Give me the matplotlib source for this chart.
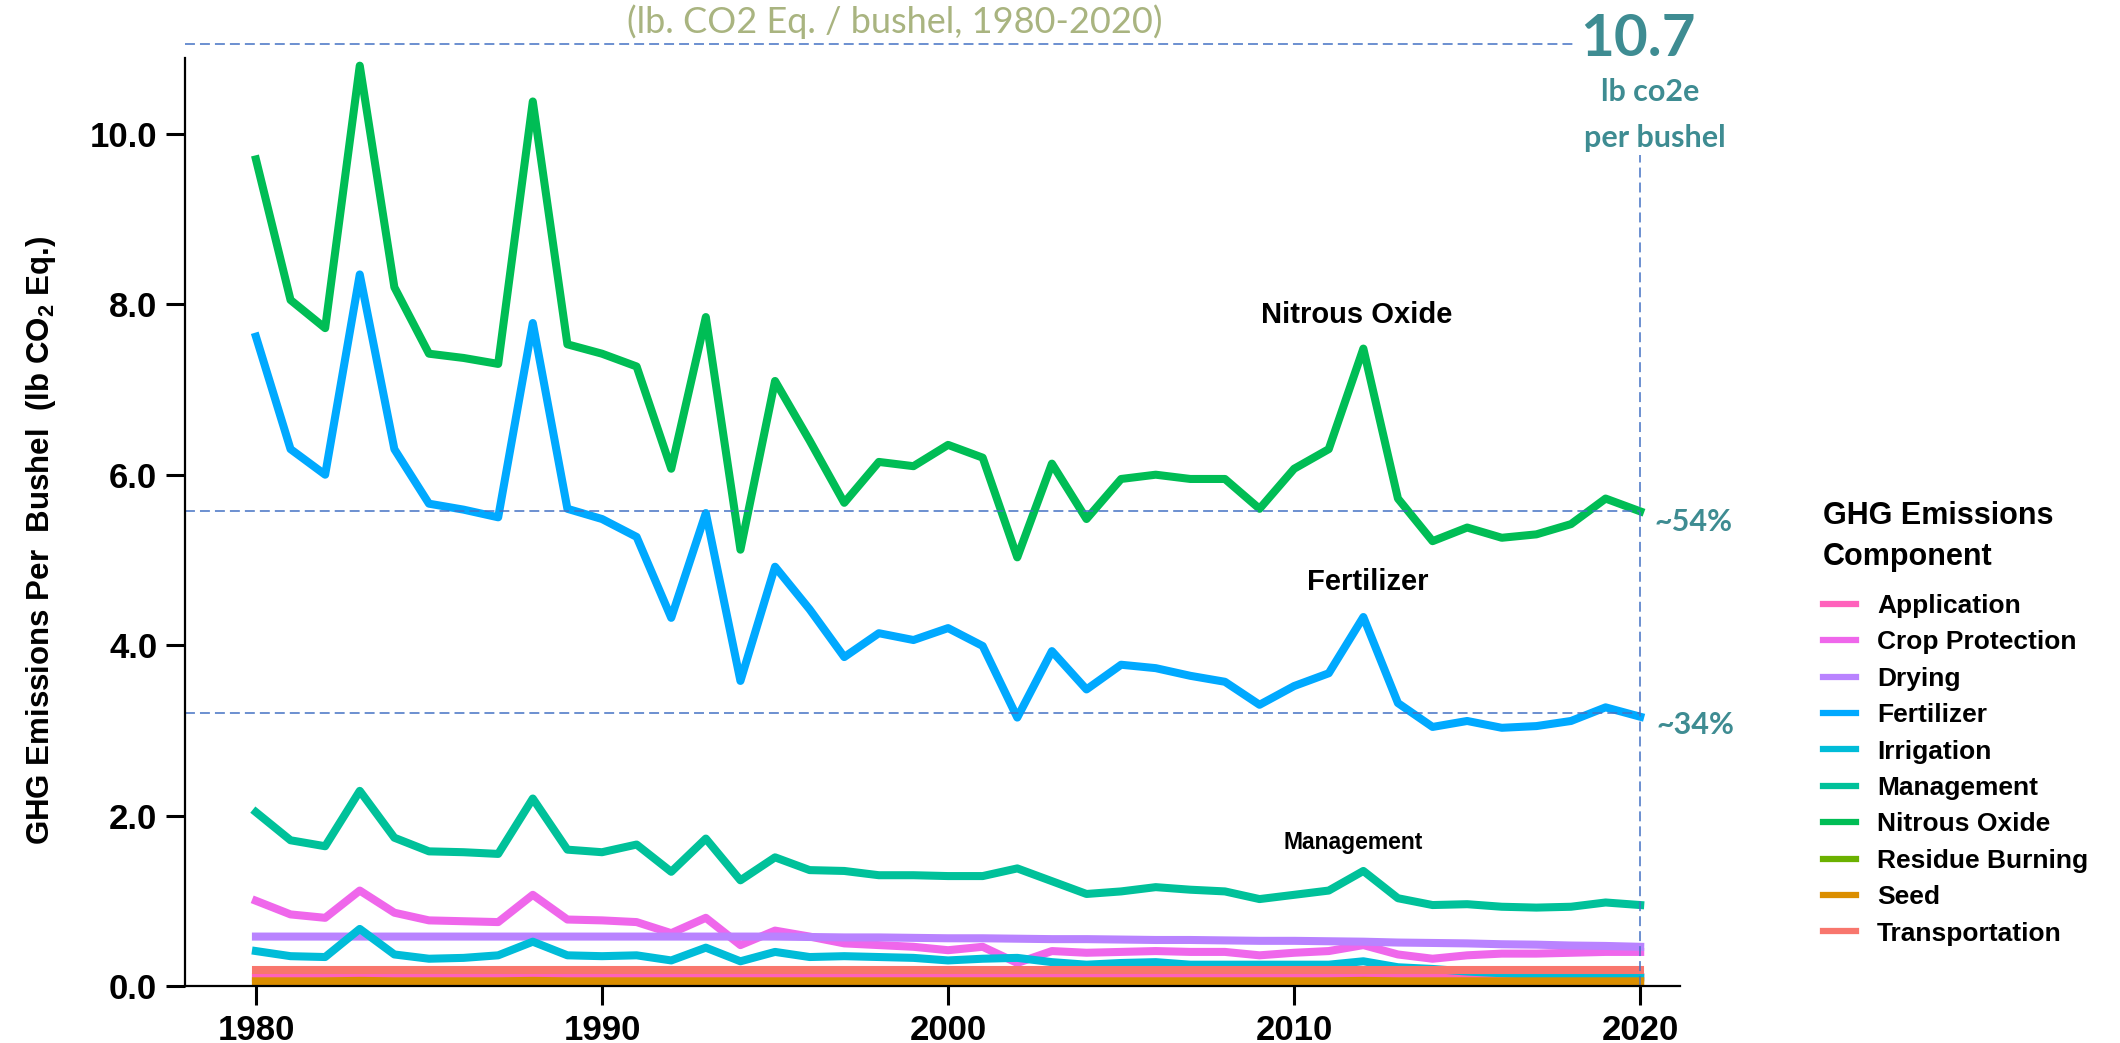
import numpy as np
import matplotlib
matplotlib.use("Agg")
import matplotlib.pyplot as plt
from matplotlib.lines import Line2D

## Data : lb CO2 eq. per bushel, 1980-2020

years = list(range(1980, 2021))

components = ['Application', 'Crop Protection', 'Drying', 'Fertilizer', 'Irrigation',
              'Management', 'Nitrous Oxide', 'Residue Burning', 'Seed', 'Transportation']

colors = ['#FF62BC', '#EF67EB', '#B983FF', '#00A9FF', '#00BCD8',
          '#00C19A', '#00BD55', '#6BB100', '#DB8E00', '#F8766D']

application = [0.10, 0.10, 0.10, 0.11, 0.10, 0.10, 0.10, 0.10, 0.11, 0.10,
               0.10, 0.10, 0.10, 0.10, 0.10, 0.10, 0.10, 0.10, 0.10, 0.10,
               0.10, 0.10, 0.10, 0.10, 0.10, 0.10, 0.10, 0.10, 0.10, 0.10,
               0.10, 0.10, 0.11, 0.10, 0.10, 0.10, 0.10, 0.10, 0.10, 0.10, 0.10]

crop_protection = [1.00, 0.84, 0.80, 1.12, 0.86, 0.77, 0.76, 0.75, 1.07, 0.78,
                   0.77, 0.75, 0.62, 0.80, 0.48, 0.65, 0.58, 0.50, 0.48, 0.46,
                   0.42, 0.46, 0.27, 0.41, 0.39, 0.40, 0.41, 0.40, 0.40, 0.36,
                   0.39, 0.41, 0.48, 0.37, 0.32, 0.36, 0.38, 0.38, 0.39, 0.40, 0.40]

drying = [0.58, 0.58, 0.58, 0.58, 0.58, 0.58, 0.58, 0.58, 0.58, 0.58,
          0.58, 0.58, 0.58, 0.58, 0.58, 0.58, 0.575, 0.57, 0.57, 0.565,
          0.56, 0.56, 0.555, 0.55, 0.55, 0.545, 0.54, 0.54, 0.535, 0.53,
          0.53, 0.525, 0.52, 0.51, 0.505, 0.50, 0.49, 0.485, 0.475, 0.47, 0.46]

fertilizer = [7.62, 6.30, 6.00, 8.35, 6.30, 5.66, 5.59, 5.50, 7.78, 5.60,
              5.48, 5.27, 4.32, 5.55, 3.58, 4.92, 4.42, 3.86, 4.14, 4.06,
              4.20, 3.99, 3.15, 3.93, 3.48, 3.77, 3.73, 3.64, 3.57, 3.30,
              3.52, 3.67, 4.33, 3.32, 3.04, 3.11, 3.03, 3.05, 3.11, 3.27, 3.16]

irrigation = [0.41, 0.35, 0.34, 0.67, 0.37, 0.32, 0.33, 0.36, 0.52, 0.36,
              0.35, 0.36, 0.30, 0.45, 0.29, 0.40, 0.34, 0.35, 0.34, 0.33,
              0.30, 0.32, 0.33, 0.28, 0.25, 0.27, 0.28, 0.25, 0.25, 0.25,
              0.25, 0.25, 0.29, 0.22, 0.20, 0.17, 0.15, 0.13, 0.12, 0.11, 0.10]

management = [2.04, 1.71, 1.64, 2.29, 1.74, 1.58, 1.57, 1.55, 2.20, 1.60,
              1.57, 1.66, 1.34, 1.73, 1.24, 1.51, 1.36, 1.35, 1.30, 1.30,
              1.29, 1.29, 1.38, 1.23, 1.08, 1.11, 1.16, 1.13, 1.11, 1.02,
              1.07, 1.12, 1.35, 1.03, 0.95, 0.96, 0.93, 0.92, 0.93, 0.98, 0.95]

nitrous_oxide = [9.70, 8.05, 7.72, 10.80, 8.20, 7.42, 7.37, 7.30, 10.38, 7.53,
                 7.42, 7.27, 6.07, 7.85, 5.12, 7.10, 6.40, 5.67, 6.15, 6.10,
                 6.35, 6.20, 5.03, 6.13, 5.48, 5.95, 6.00, 5.95, 5.95, 5.60,
                 6.07, 6.30, 7.48, 5.72, 5.22, 5.38, 5.26, 5.30, 5.42, 5.72, 5.57]

residue_burning = [0.02, 0.02, 0.02, 0.02, 0.02, 0.02, 0.02, 0.02, 0.02, 0.02,
                   0.02, 0.02, 0.02, 0.02, 0.02, 0.02, 0.02, 0.02, 0.02, 0.02,
                   0.02, 0.02, 0.02, 0.02, 0.02, 0.02, 0.02, 0.02, 0.02, 0.02,
                   0.02, 0.02, 0.02, 0.02, 0.02, 0.02, 0.02, 0.02, 0.02, 0.02, 0.02]

seed = [0.055, 0.055, 0.055, 0.06, 0.055, 0.055, 0.055, 0.055, 0.06, 0.055,
        0.055, 0.055, 0.055, 0.055, 0.055, 0.055, 0.055, 0.055, 0.055, 0.055,
        0.055, 0.055, 0.055, 0.055, 0.055, 0.055, 0.055, 0.055, 0.055, 0.055,
        0.055, 0.055, 0.06, 0.055, 0.055, 0.055, 0.055, 0.055, 0.055, 0.055, 0.055]

transportation = [0.19, 0.19, 0.19, 0.19, 0.19, 0.19, 0.19, 0.19, 0.19, 0.19,
                  0.19, 0.19, 0.19, 0.19, 0.19, 0.19, 0.19, 0.19, 0.19, 0.19,
                  0.19, 0.19, 0.19, 0.19, 0.19, 0.19, 0.19, 0.19, 0.19, 0.19,
                  0.19, 0.19, 0.19, 0.19, 0.19, 0.19, 0.19, 0.19, 0.19, 0.19, 0.19]

series = [application, crop_protection, drying, fertilizer, irrigation,
          management, nitrous_oxide, residue_burning, seed, transportation]

# reference levels drawn as dashed guides
total_2020 = 11.05       # top guide (10.7 lb label)
n2o_level = 5.57
fert_level = 3.20

## Style

plt.rcParams['font.family'] = ['Liberation Sans', 'DejaVu Sans']
plt.rcParams['mathtext.fontset'] = 'custom'
plt.rcParams['mathtext.rm'] = 'Liberation Sans:bold'
plt.rcParams['mathtext.bf'] = 'Liberation Sans:bold'

W, H = 2120, 1043
def fx(px): return px / W
def fy(py): return 1 - py / H

TEAL = '#3E8C92'
GUIDE = '#4472C4'

fig = plt.figure(figsize=(21.2, 10.43), dpi=100)
ax = fig.add_axes([fx(185), fy(986), fx(1680) - fx(185), fy(58) - fy(986)])

for vals, name, col in zip(series, components, colors):
    ax.plot(years, vals, color=col, lw=5.8, solid_joinstyle='round', label=name)

ax.set_xlim(1977.95, 2021.15)
ax.set_ylim(0, 10.89)
ax.set_xticks([1980, 1990, 2000, 2010, 2020])
ax.set_yticks([0, 2, 4, 6, 8, 10])
ax.set_yticklabels(['%.1f' % v for v in [0, 2, 4, 6, 8, 10]])
for s in ['top', 'right']:
    ax.spines[s].set_visible(False)
for s in ['left', 'bottom']:
    ax.spines[s].set_linewidth(1.6)
ax.tick_params(direction='out', length=14, width=2.2, labelsize=25, pad=6)
for lab in ax.get_xticklabels() + ax.get_yticklabels():
    lab.set_fontweight('bold')

ax.set_ylabel(r'GHG Emissions Per  Bushel  (lb CO$_\mathbf{2}$ Eq.)',
              fontsize=22.5, fontweight='bold', labelpad=23)
ax.yaxis.label.set_y(0.48)

# series labels
ax.text(2011.82, 7.87, 'Nitrous Oxide', fontsize=21, fontweight='bold', ha='center', va='center')
ax.text(2012.13, 4.74, 'Fertilizer', fontsize=21, fontweight='bold', ha='center', va='center')
ax.text(2011.7, 1.68, 'Management', fontsize=16.5, fontweight='bold', ha='center', va='center')

# dashed guides
dash = dict(color=GUIDE, lw=1.1, dashes=(6.5, 3.3), clip_on=False)
ax.plot([1977.95, 2018.06], [total_2020, total_2020], **dash)
ax.plot([1977.95, 2020], [n2o_level, n2o_level], **dash)
ax.plot([1977.95, 2020], [fert_level, fert_level], **dash)
ax.plot([2020, 2020], [0, 9.75], **dash)

# annotations
fig.text(fx(895), fy(22), '(lb. CO2 Eq. / bushel, 1980-2020)', fontsize=26,
         family='Lato', color='#A9B480', ha='center', va='center')
fig.text(fx(1638), fy(40), '10.7', fontsize=42, family='Lato', fontweight='bold',
         color=TEAL, ha='center', va='center')
fig.text(fx(1650), fy(92), 'lb co2e', fontsize=22, family='Lato', fontweight='bold',
         color=TEAL, ha='center', va='center')
fig.text(fx(1655), fy(138), 'per bushel', fontsize=22, family='Lato', fontweight='bold',
         color=TEAL, ha='center', va='center')
fig.text(fx(1655), fy(522), '~54%', fontsize=22, family='Lato', fontweight='bold',
         color=TEAL, ha='left', va='center')
fig.text(fx(1657), fy(725), '~34%', fontsize=22, family='Lato', fontweight='bold',
         color=TEAL, ha='left', va='center')

# legend
fig.text(fx(1823), fy(516), 'GHG Emissions', fontsize=22, fontweight='bold', ha='left', va='center')
fig.text(fx(1823), fy(557), 'Component', fontsize=22, fontweight='bold', ha='left', va='center')
handles = [Line2D([], [], color=c, lw=4.5) for c in colors]
leg = fig.legend(handles, components, loc='upper left', bbox_to_anchor=(fx(1823), fy(594)),
                 frameon=False, borderpad=0, borderaxespad=0, handlelength=1.25,
                 handletextpad=0.8, labelspacing=0.47,
                 prop={'weight': 'bold', 'size': 19})

fig.savefig('out.png', dpi=100)
